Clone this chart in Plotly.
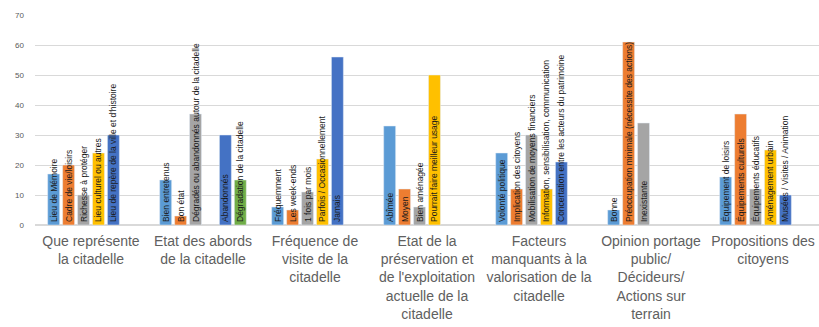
import plotly.graph_objects as go

categories = [
    "Que représente<br>la citadelle",
    "Etat des abords<br>de la citadelle",
    "Fréquence de<br>visite de la<br>citadelle",
    "Etat de la<br>préservation et<br>de l'exploitation<br>actuelle de la<br>citadelle",
    "Facteurs<br>manquants à la<br>valorisation de la<br>citadelle",
    "Opinion portage<br>public/<br>Décideurs/<br>Actions sur<br>terrain",
    "Propositions des<br>citoyens",
]

# six series (one value per category, None = no bar)
s1_values = [17, 15, 6, 33, 24, 5, 16]
s2_values = [20, 3, 5, 12, 12, 61, 37]
s3_values = [10, 37, 11, 6, 30, 34, 12]
s4_values = [24, None, 22, 50, 12, None, 25]
s5_values = [30, 30, 56, None, 21, None, 10]
s6_values = [None, 15, None, None, None, None, None]

s1_labels = ["Lieu de Mémoire", "Bien entretenus", "Fréquemment", "Abîmée",
             "Volonté politique", "Bonne", "Équipement de loisirs"]
s2_labels = ["Cadre de vie/loisirs", "Bon état", "Les week-ends", "Moyen",
             "Implication des citoyens",
             "Préoccupation minimale (nécessite des actions)", "Équipements culturels"]
s3_labels = ["Richesse à protéger", "Dégradés ou abandonnés autour de la citadelle",
             "1 fois par mois", "Bien aménagée", "Mobilisation de moyens financiers",
             "Inexistante", "Équipements éducatifs"]
s4_labels = ["Lieu culturel ou autres", "", "Parfois / Occasionnellement",
             "Pourrait faire meilleur usage",
             "Information, sensibilisation, communication", "", "Aménagement urbain"]
s5_labels = ["Lieu de repère de la ville et d'histoire", "Abandonnés", "Jamais", "",
             "Concertation entre les acteurs du patrimoine", "",
             "Musées / Visites / Animation"]
s6_labels = ["", "Dégradation de la citadelle", "", "", "", "", ""]

colors = ["#5B9BD5", "#ED7D31", "#A5A5A5", "#FFC000", "#4472C4", "#70AD47"]
series = [
    (s1_values, s1_labels), (s2_values, s2_labels), (s3_values, s3_labels),
    (s4_values, s4_labels), (s5_values, s5_labels), (s6_values, s6_labels),
]

fig = go.Figure()
for (vals, labs), col in zip(series, colors):
    fig.add_trace(go.Bar(
        x=categories, y=vals, text=labs, marker_color=col,
        textposition="inside", insidetextanchor="start", textangle=-90,
        constraintext="none", cliponaxis=False,
        insidetextfont=dict(family="Liberation Sans", size=8.5, color="#1a1a1a"),
        hoverinfo="skip",
    ))

fig.update_layout(
    width=819, height=327,
    margin=dict(l=35, r=0, t=15, b=102),
    paper_bgcolor="white", plot_bgcolor="white",
    barmode="group", bargap=0.2, bargroupgap=0.2,
    showlegend=False,
    font=dict(family="Liberation Sans", color="#595959"),
)
fig.update_xaxes(type="category", tickfont=dict(size=14, color="#606060"),
                 showgrid=False, showline=False, ticks="", ticklabelstandoff=6)
fig.update_yaxes(range=[0, 70], dtick=10, showgrid=True, gridcolor="#D9D9D9",
                 gridwidth=1, zeroline=True, zerolinecolor="#D9D9D9",
                 tickfont=dict(size=8, color="#595959"), ticklabelstandoff=10)

fig.write_html("out.html")
